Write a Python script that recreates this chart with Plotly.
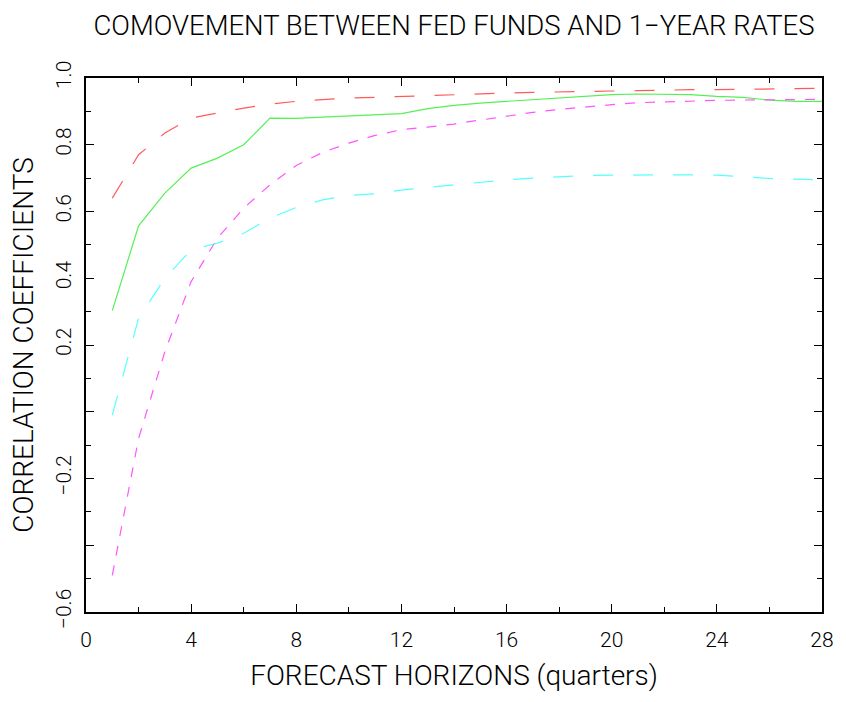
import plotly.graph_objects as go

# Forecast horizons in quarters
horizons = list(range(1, 29))

# Correlation coefficients at each horizon
red_series = [0.64, 0.77, 0.835, 0.88, 0.895, 0.91, 0.922, 0.93, 0.935, 0.94,
              0.942, 0.945, 0.948, 0.951, 0.953, 0.955, 0.957, 0.959, 0.96, 0.961,
              0.962, 0.964, 0.965, 0.965, 0.966, 0.966, 0.967, 0.969]
green_series = [0.303, 0.557, 0.655, 0.73, 0.76, 0.80, 0.88, 0.879, 0.883, 0.886,
                0.889, 0.893, 0.908, 0.918, 0.925, 0.93, 0.937, 0.942, 0.947, 0.95,
                0.952, 0.952, 0.95, 0.945, 0.942, 0.934, 0.93, 0.93]
magenta_series = [-0.49, -0.08, 0.18, 0.39, 0.52, 0.61, 0.68, 0.738, 0.777, 0.805,
                  0.828, 0.845, 0.853, 0.862, 0.874, 0.886, 0.897, 0.906, 0.914, 0.92,
                  0.926, 0.929, 0.931, 0.933, 0.934, 0.934, 0.935, 0.936]
cyan_series = [-0.01, 0.28, 0.40, 0.485, 0.505, 0.535, 0.58, 0.612, 0.635, 0.648,
               0.653, 0.664, 0.672, 0.68, 0.688, 0.695, 0.70, 0.705, 0.708, 0.709,
               0.71, 0.71, 0.71, 0.709, 0.703, 0.699, 0.697, 0.695]

x_tickvals = [0, 4, 8, 12, 16, 20, 24, 28]
y_tickvals = [-0.6, -0.4, -0.2, 0.0, 0.2, 0.4, 0.6, 0.8, 1.0]
y_ticktext = ["\u22120.6", "", "\u22120.2", "", "0.2", "0.4", "0.6", "0.8", "1.0"]

FONT = "Roboto, sans-serif"
WEIGHT = 300

fig = go.Figure()
series = [
    (red_series, "#ff5a5a", "20px,20px"),
    (green_series, "#55f055", "solid"),
    (magenta_series, "#ff55ff", "10px,10px"),
    (cyan_series, "#55ffff", "20px,20px"),
]
for values, color, dash in series:
    fig.add_trace(go.Scatter(
        x=horizons, y=values, mode="lines",
        line=dict(color=color, width=1.2, dash=dash),
        showlegend=False, hoverinfo="skip",
    ))

fig.update_layout(
    width=846, height=702,
    margin=dict(l=86, r=20, t=78, b=90),
    paper_bgcolor="white", plot_bgcolor="white",
    font=dict(family=FONT, color="black", size=20, weight=WEIGHT),
    title=dict(
        text="COMOVEMENT BETWEEN FED FUNDS AND 1\u2212YEAR RATES",
        font=dict(family=FONT, size=27.5, color="black", weight=WEIGHT),
        xref="paper", x=0.5, xanchor="center",
        yref="container", y=1 - 25 / 702, yanchor="middle",
    ),
)

fig.update_xaxes(
    range=[0, 28], tickvals=x_tickvals, ticktext=[str(v) for v in x_tickvals],
    showgrid=False, zeroline=False,
    showline=True, linewidth=2, linecolor="black", mirror="allticks",
    ticks="inside", ticklen=8, tickwidth=1, tickcolor="black",
    minor=dict(dtick=2, tick0=0, ticks="inside", ticklen=5, tickwidth=1,
               tickcolor="black", showgrid=False),
    tickfont=dict(size=21, weight=WEIGHT), ticklabelstandoff=8,
    title=dict(text="FORECAST HORIZONS (quarters)",
               font=dict(size=28, weight=WEIGHT), standoff=14),
)
fig.update_yaxes(
    range=[-0.6, 1.0], tickvals=y_tickvals, ticktext=y_ticktext,
    tickangle=-90,
    showgrid=False, zeroline=False,
    showline=True, linewidth=2, linecolor="black", mirror="allticks",
    ticks="inside", ticklen=8, tickwidth=1, tickcolor="black",
    minor=dict(dtick=0.1, tick0=0, ticks="inside", ticklen=5, tickwidth=1,
               tickcolor="black", showgrid=False),
    tickfont=dict(size=21, weight=WEIGHT), ticklabelstandoff=5,
    title=dict(text="CORRELATION COEFFICIENTS",
               font=dict(size=28, weight=WEIGHT), standoff=10),
)

fig.write_html("out.html")
